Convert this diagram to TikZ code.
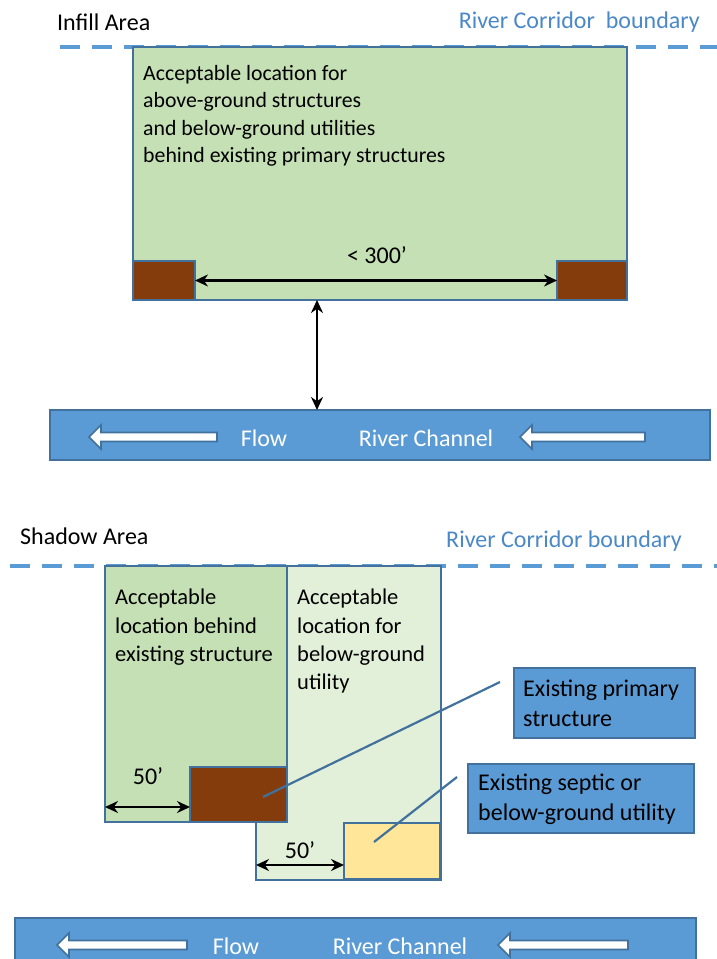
\documentclass[tikz,border=0pt]{standalone}
\usepackage{fontspec}
\setmainfont{Carlito}
\usetikzlibrary{arrows.meta}
\definecolor{rcblue}{HTML}{5B9BD5}
\definecolor{edgeblue}{HTML}{41719C}
\definecolor{lgreen}{HTML}{C5E0B4}
\definecolor{vlgreen}{HTML}{E2F0D9}
\definecolor{sbrown}{HTML}{843C0C}
\definecolor{sand}{HTML}{FFE699}
\definecolor{titleblue}{HTML}{4A88C8}
\tikzset{
  box/.style={draw=edgeblue, line width=1.8pt, anchor=north west, inner sep=0pt, outer sep=0pt},
  areatxt/.style={anchor=north west, align=left, inner sep=0pt, font=\fontsize{21.8}{27.5}\selectfont, text=black},
  calltxt/.style={anchor=north west, align=left, inner sep=0pt, font=\fontsize{24}{30}\selectfont, text=black},
  title/.style={anchor=west, inner sep=0pt, font=\fontsize{24}{28}\selectfont},
  dimtxt/.style={inner sep=0pt, font=\fontsize{24}{28}\selectfont},
  dim/.style={{Stealth[length=13pt,width=12pt]}-{Stealth[length=13pt,width=12pt]}, line width=2.6pt, black},
  boundary/.style={draw=rcblue, line width=3.5pt, dash pattern=on 20pt off 12pt},
  rivertxt/.style={inner sep=0pt, text=white, font=\fontsize{24}{28}\selectfont},
  callline/.style={draw=edgeblue, line width=2.2pt},
  flowarr/.style={fill=white, draw=edgeblue, line width=1.6pt, line join=miter}
}
\newcommand\flowarrow[3]{% tip x, tail x, y
  \draw[flowarr] (#1,#3) -- (#1+12,#3-12) -- (#1+12,#3-4.5) -- (#2,#3-4.5) -- (#2,#3+4.5) -- (#1+12,#3+4.5) -- (#1+12,#3+12) -- cycle;}
\begin{document}
\begin{tikzpicture}[x=1pt,y=-1pt]
\useasboundingbox (0,0) rectangle (717,959);
% ---------- Infill area ----------
\node[title, text=black] (t1) at (57,22) {Infill Area};
\node[title, text=titleblue, anchor=east] (rc1) at (700,22) {River Corridor\ \ boundary};
\coordinate (d1a) at (60,47);
\coordinate (d1b) at (717,47);
\draw[boundary] (d1a) -- (d1b);
\node[box, fill=lgreen, minimum width=494pt, minimum height=253pt] (infill) at (133,47) {};
\node[areatxt] (infilltxt) at (143,65) {Acceptable location for\\above-ground structures\\and below-ground utilities\\behind existing primary structures};
\node[box, fill=sbrown, minimum width=62pt, minimum height=39pt] (lb) at (133,261) {};
\node[box, fill=sbrown, minimum width=70pt, minimum height=39pt] (rb) at (557,261) {};
\node[dimtxt] (d300) at (377,255) {< 300’};
\draw[dim] (lb.east) -- (rb.west);
% river 1
\node[box, fill=rcblue, minimum width=660pt, minimum height=50pt] (river1) at (50,410) {};
\coordinate (va) at (317,0);
\draw[dim] (va |- infill.south) -- (va |- river1.north);
\flowarrow{89}{217}{437}
\flowarrow{520}{645}{437}
\node[rivertxt] (flow1) at (264,438) {Flow};
\node[rivertxt] (rch1) at (426,438) {River Channel};
% ---------- Shadow area ----------
\node[title, text=black] (t2) at (20,536) {Shadow Area};
\node[title, text=titleblue, anchor=east] (rc2) at (682,541) {River Corridor boundary};
\coordinate (d2a) at (10,566);
\coordinate (d2b) at (717,566);
\draw[boundary] (d2a) -- (d2b);
\node[box, fill=vlgreen, minimum width=185pt, minimum height=314pt] (light) at (256,566) {};
\node[box, fill=lgreen, minimum width=182pt, minimum height=256pt] (dark) at (105,566) {};
\node[areatxt, font=\fontsize{22.5}{28.2}\selectfont] (darktxt) at (115,589) {Acceptable\\location behind\\existing structure};
\node[areatxt, font=\fontsize{22.5}{28.2}\selectfont] (lighttxt) at (297,589) {Acceptable\\location for\\below-ground\\utility};
\node[box, fill=sbrown, minimum width=97pt, minimum height=55pt] (pb) at (190,767) {};
\node[box, fill=sand, minimum width=96pt, minimum height=56pt] (sb) at (344,823) {};
\draw[dim] (dark.west |- 0,807) -- (pb.west |- 0,807);
\node[dimtxt] (d50a) at (148,776) {50’};
\draw[dim] (light.west |- 0,865) -- (sb.west |- 0,865);
\node[dimtxt] (d50b) at (300,850) {50’};
% callouts
\node[box, fill=rcblue, minimum width=181pt, minimum height=70pt] (c1) at (514,668) {};
\node[calltxt] (c1t) at (523,680) {Existing primary\\structure};
\node[box, fill=rcblue, minimum width=226pt, minimum height=69pt] (c2) at (468,764) {};
\node[calltxt] (c2t) at (478,774) {Existing septic or\\below-ground utility};
\coordinate (c1p) at (500,682);
\coordinate (pbp) at (263,797);
\coordinate (c2p) at (457,777);
\coordinate (sbp) at (374,842);
\draw[callline] (c1p) -- (pbp);
\draw[callline] (c2p) -- (sbp);
% river 2
\node[box, fill=rcblue, minimum width=681pt, minimum height=60pt] (river2) at (15,918) {};
\flowarrow{57}{187}{945}
\flowarrow{498}{628}{945}
\node[rivertxt] (flow2) at (236,946) {Flow};
\node[rivertxt] (rch2) at (400,946) {River Channel};
\end{tikzpicture}
\end{document}
